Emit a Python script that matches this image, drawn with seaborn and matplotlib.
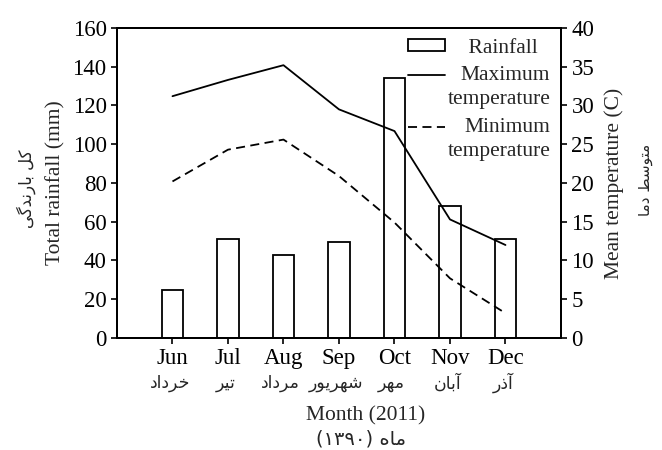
import numpy as np
import matplotlib
matplotlib.use("Agg")
import matplotlib.pyplot as plt
import seaborn as sns
from matplotlib.patches import Patch
from matplotlib.lines import Line2D

# --- Data ---
months = ["Jun", "Jul", "Aug", "Sep", "Oct", "Nov", "Dec"]
# Persian month names, stored in visual (left-to-right, shaped) order
months_fa = [
    "\uFEA9\uFE8D\uFEA9\uFEAE\uFEA7",           # khordad
    "\uFEAE\uFEF4\uFE97",                        # tir
    "\uFEA9\uFE8D\uFEA9\uFEAE\uFEE3",           # mordad
    "\uFEAD\uFEEE\uFEF3\uFEAE\uFEEC\uFEB7",     # shahrivar
    "\uFEAE\uFEEC\uFEE3",                        # mehr
    "\uFEE5\uFE8E\uFE91\uFE81",                  # aban
    "\uFEAD\uFEAB\uFE81",                        # azar
]
rainfall = [25, 51, 43, 49.5, 134, 68, 51]
t_max = [31.2, 33.3, 35.2, 29.5, 26.7, 15.3, 12.0]
t_min = [20.2, 24.3, 25.6, 20.9, 14.9, 7.7, 3.2]

xlabel_fa = "(\u06F1\u06F3\u06F9\u06F0) \uFEE9\uFE8E\uFEE3"
ylabel_fa = "\uFEF0\uFB94\uFEAA\uFEE7\uFEAD\uFE8E\uFE91 \uFEDE\uFB90"
y2label_fa = "\uFE8E\uFEE3\uFEA9 \uFEC2\uFEB3\uFEEE\uFE98\uFEE3"

# --- Style ---
sns.set_style("ticks")
plt.rcParams["font.family"] = ["Liberation Serif", "DejaVu Sans"]
plt.rcParams["font.size"] = 15.5
fa_font = ["DejaVu Sans"]

fig = plt.figure(figsize=(6.62, 4.5), dpi=100)
ax = fig.add_axes([0.1767, 0.2489, 0.6707, 0.6889])

# bars
sns.barplot(x=months, y=rainfall, ax=ax, color="white", edgecolor="black",
            linewidth=1.3, width=0.38, saturation=1)
ax.set_xlim(-1, 7)
ax.set_ylim(0, 160)
ax.set_yticks(np.arange(0, 161, 20))
ax.set_xlabel("Month (2011)")
ax.xaxis.set_label_coords(0.56, -0.22)
ax.set_ylabel("Total rainfall (mm)", labelpad=5)

# temperature lines
ax2 = ax.twinx()
xpos = np.arange(len(months))
sns.lineplot(x=xpos, y=t_max, ax=ax2, color="black", linewidth=1.3)
sns.lineplot(x=xpos, y=t_min, ax=ax2, color="black", linewidth=1.3,
             linestyle=(0, (5, 3)))
ax2.set_ylim(0, 40)
ax2.set_yticks(np.arange(0, 41, 5))
ax2.set_xlim(-1, 7)
ax2.set_ylabel("Mean temperature (C)", labelpad=7)

for a in (ax, ax2):
    for s in a.spines.values():
        s.set_visible(True)
        s.set_linewidth(1.4)
        s.set_color("black")
    a.tick_params(direction="out", length=4, width=1.2, colors="black",
                  labelsize=16.5)

# Persian text
for i, name in enumerate(months_fa):
    ax.text(i - 0.05, -0.145, name, transform=ax.get_xaxis_transform(),
            ha="center", va="center", fontsize=12.5, family=fa_font)
ax.text(0.55, -0.325, xlabel_fa, transform=ax.transAxes, ha="center",
        va="center", fontsize=14, family=fa_font)
fig.text(0.04, 0.58, ylabel_fa, rotation=90, ha="center", va="center",
         fontsize=12, family=fa_font)
fig.text(0.975, 0.60, y2label_fa, rotation=90, ha="center", va="center",
         fontsize=11, family=fa_font)

# legend
handles = [
    Patch(facecolor="white", edgecolor="black", linewidth=1.3),
    Line2D([], [], color="black", linewidth=1.3),
    Line2D([], [], color="black", linewidth=1.3, linestyle=(0, (5, 3))),
]
labels = ["    Rainfall", "Maximum\ntemperature", "Minimum\ntemperature"]
leg = ax2.legend(handles, labels, loc="upper right", frameon=False,
                 handlelength=1.75, handleheight=0.5, handletextpad=0.1,
                 labelspacing=0.4, borderaxespad=0.3, borderpad=0.2)
for t in leg.get_texts():
    t.set_multialignment("right")
    t.set_linespacing(1.35)
# lift the line handles to the first line of their two-line labels
for h in leg.legend_handles[1:]:
    h.set_ydata(np.asarray(h.get_ydata()) + 9)

fig.savefig("out.png", dpi=100)
